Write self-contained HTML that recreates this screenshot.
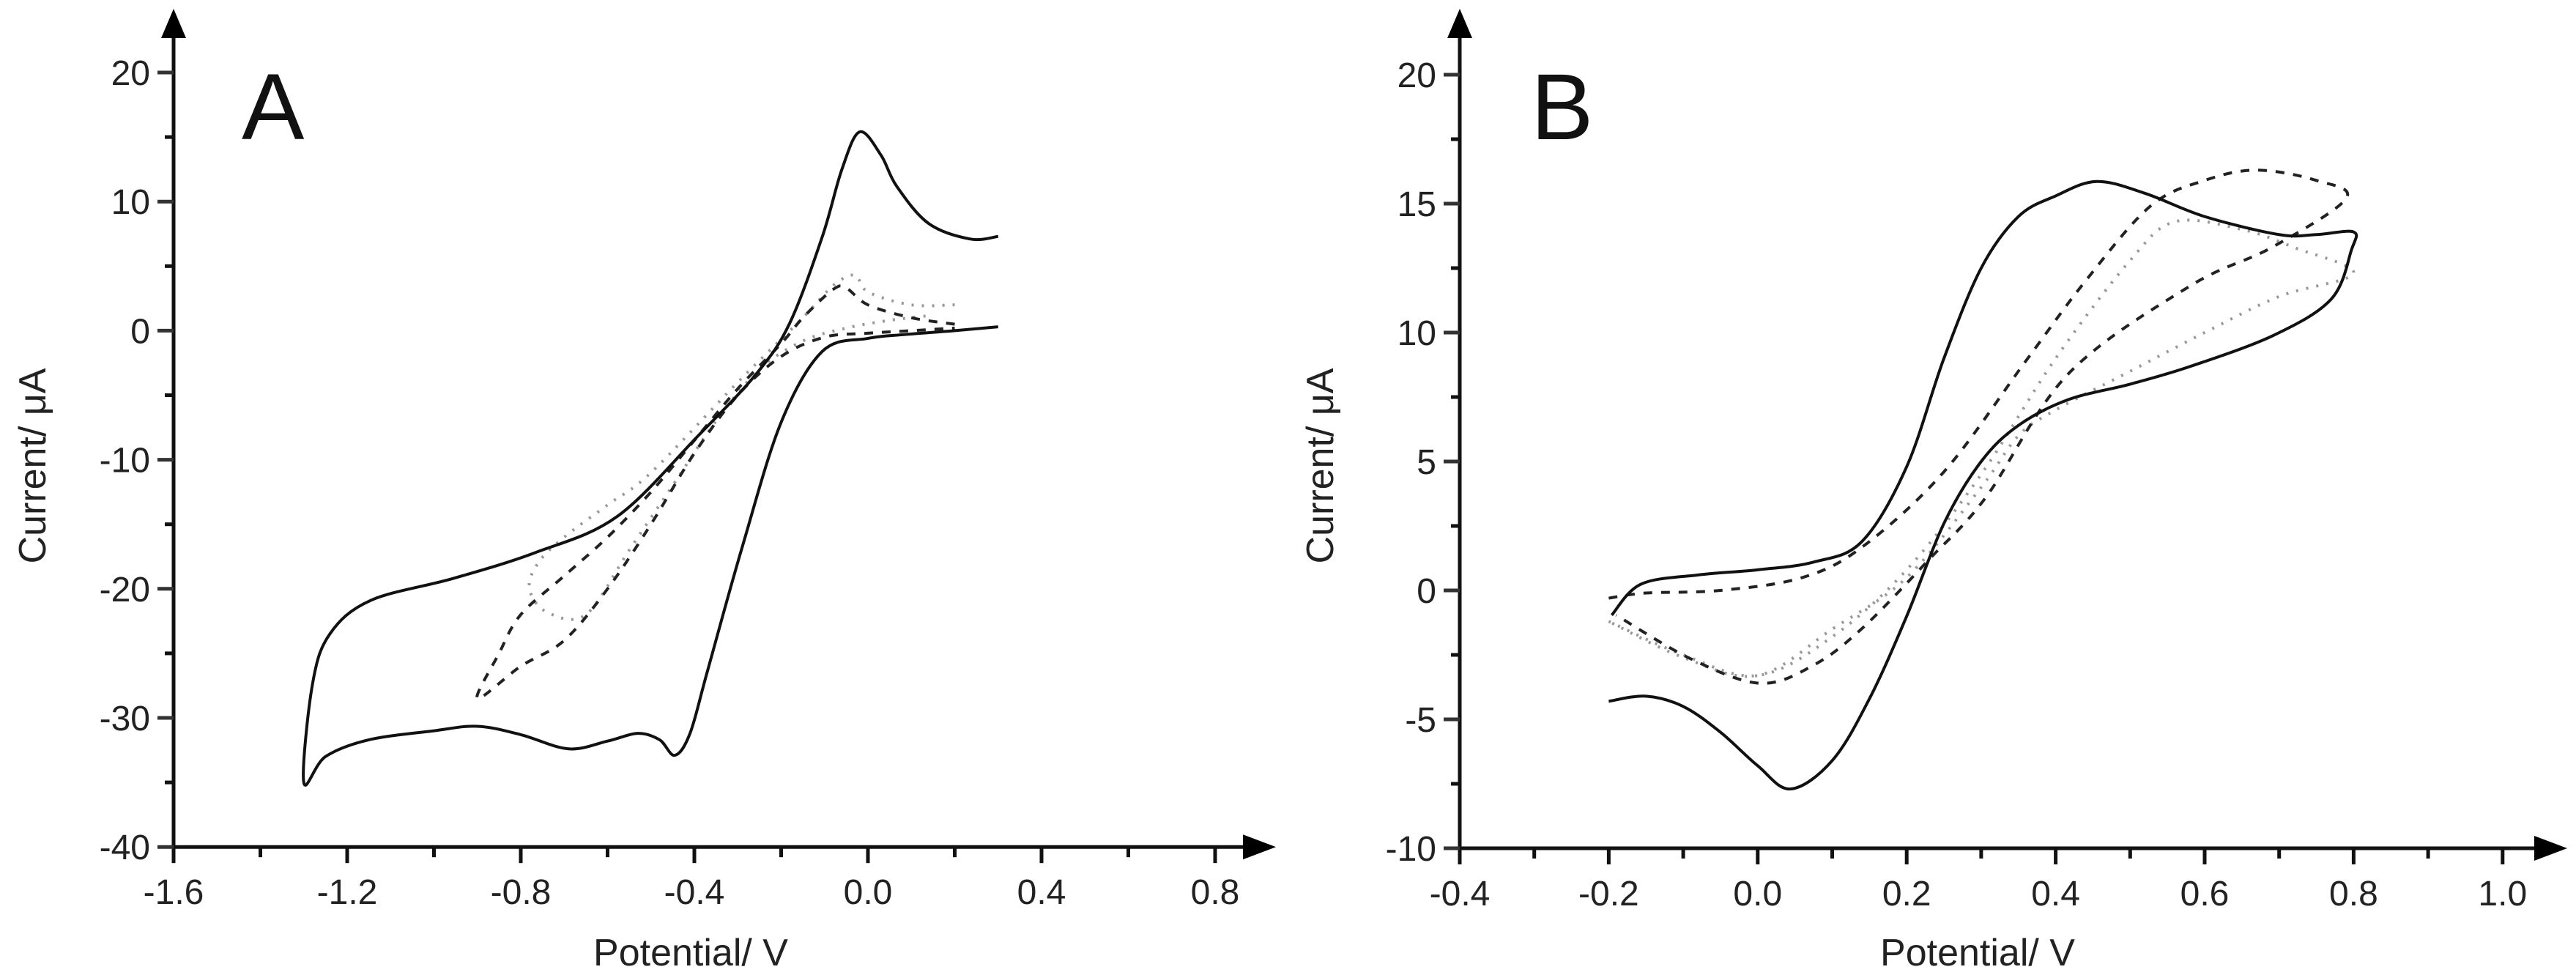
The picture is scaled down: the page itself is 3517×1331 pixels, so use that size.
<!DOCTYPE html>
<html><head><meta charset="utf-8"><style>
html,body{margin:0;padding:0;background:#fff;}
svg{display:block;font-family:"Liberation Sans",sans-serif;}
</style></head><body>
<svg id="chart" width="3517" height="1331" viewBox="0 0 3517 1331" xmlns="http://www.w3.org/2000/svg"></svg>
<script>
// Panel A data (V, µA)
const aSolidV = [0.3,0.236,0.14,0.066,0.03,-0.019,-0.06,-0.105,-0.18,-0.256,-0.39,-0.578,-0.767,-0.956,-1.146,-1.24,-1.28,-1.3,-1.25,-1.15,-1.0,-0.9,-0.8,-0.69,-0.6,-0.53,-0.48,-0.445,-0.41,-0.37,-0.29,-0.2,-0.105,0.0,0.085,0.2,0.3];
const aSolidI = [7.3,7.1,8.3,11.2,13.6,15.4,12.5,7.3,0.6,-3.3,-8.1,-14.4,-17.2,-19.2,-20.9,-23.5,-27.4,-35.0,-33.0,-31.7,-31.0,-30.65,-31.3,-32.4,-31.8,-31.2,-31.7,-32.9,-31.2,-26.4,-16.8,-7.1,-1.6,-0.6,-0.3,0.0,0.3];
const aDashV = [0.2,0.1,0.0,-0.05,-0.08,-0.15,-0.2,-0.3,-0.4,-0.5,-0.6,-0.7,-0.8,-0.85,-0.9,-0.8,-0.7,-0.6,-0.5,-0.4,-0.3,-0.2,-0.1,0.0,0.1,0.2];
const aDashI = [0.5,1.0,2.0,3.3,3.2,1.0,-1.0,-4.5,-8.5,-12.5,-16,-19,-22,-25,-28.5,-26,-24,-20,-15,-9.5,-5,-2,-0.5,-0.2,0.0,0.2];
const aDotV = [0.2,0.1,0.0,-0.03,-0.08,-0.15,-0.3,-0.5,-0.6,-0.7,-0.76,-0.78,-0.74,-0.65,-0.55,-0.45,-0.35,-0.25,-0.15,-0.05,0.05,0.15];
const aDotI = [2.0,2.0,3.0,4.3,3.5,1.0,-4,-11,-13.5,-16,-18,-20,-21.8,-22,-17,-12,-7,-3,-0.8,0.2,0.8,1.2];
// Panel B data
const bSolidV = [-0.2,-0.15,-0.1,-0.05,0.0,0.044,0.1,0.15,0.2,0.25,0.3,0.35,0.417,0.5,0.582,0.693,0.77,0.797,0.8,0.75,0.7,0.6,0.52,0.455,0.4,0.35,0.3,0.25,0.2,0.14,0.075,0.0,-0.08,-0.157,-0.196];
const bSolidI = [-4.3,-4.1,-4.5,-5.5,-6.8,-7.7,-6.6,-4.2,-1.0,2.6,5.0,6.4,7.4,8.0,8.7,9.9,11.3,13.2,13.9,13.8,13.8,14.5,15.4,15.86,15.3,14.5,12.5,9.0,4.8,1.9,1.1,0.8,0.6,0.24,-0.96];
const bDashV = [-0.2,-0.15,-0.05,0.06,0.141,0.25,0.36,0.44,0.527,0.6,0.67,0.75,0.79,0.69,0.58,0.417,0.306,0.23,0.141,0.075,0.003,-0.09,-0.19];
const bDashI = [-0.3,-0.1,0.0,0.5,1.7,4.6,8.9,12.0,14.9,15.9,16.3,15.9,15.2,13.3,11.8,8.4,3.6,1.2,-1.45,-2.9,-3.6,-2.65,-0.96];
const bDotV = [-0.2,-0.1,0.0,0.1,0.2,0.3,0.4,0.5,0.56,0.65,0.72,0.8,0.7,0.6,0.5,0.4,0.35,0.3,0.2,0.1,0.0,-0.1,-0.2];
const bDotI = [-1.2,-2.5,-3.3,-1.8,0.8,4.5,9,12.8,14.3,14.0,13.3,12.3,11.4,10,8.5,7,6,4,0.5,-1.5,-3.3,-2.6,-1.2];

const A_xTicks = [-1.6,-1.2,-0.8,-0.4,0.0,0.4,0.8];
const A_yTicks = [20,10,0,-10,-20,-30,-40];
const B_xTicks = [-0.4,-0.2,0.0,0.2,0.4,0.6,0.8,1.0];
const B_yTicks = [20,15,10,5,0,-5,-10];

const NS="http://www.w3.org/2000/svg";
const svg=document.getElementById('chart');
function mk(tag,attrs,parent){const e=document.createElementNS(NS,tag);for(const k in attrs)e.setAttribute(k,attrs[k]);(parent||svg).appendChild(e);return e;}

function panel(cfg){
  const g=mk('g',{});
  
  
  const X=v=>cfg.x0+(v-cfg.vmin)*cfg.pxV;
  const Y=i=>cfg.y0+(cfg.imax-i)*cfg.pxI;
  const axisY=Y(cfg.imin);
  const xa=mk('line',{x1:X(cfg.vmin),y1:axisY,x2:cfg.xEnd-30,y2:axisY,stroke:'#111','stroke-width':5},g);
  
  
  const xar=mk('polygon',{points:`${cfg.xEnd},${axisY} ${cfg.xEnd-45},${axisY-17} ${cfg.xEnd-45},${axisY+17}`,fill:'#000'},g);
  
  
  const ya=mk('line',{x1:X(cfg.vmin),y1:axisY,x2:X(cfg.vmin),y2:50,stroke:'#111','stroke-width':5},g);
  
  
  const yar=mk('polygon',{points:`${X(cfg.vmin)},12 ${X(cfg.vmin)-17},52 ${X(cfg.vmin)+17},52`,fill:'#000'},g);
  
  
  const dv=cfg.xTicks[1]-cfg.xTicks[0];
  cfg.xTicks.forEach((v,k)=>{
    const x=X(v);
    mk('line',{x1:x,y1:axisY,x2:x,y2:axisY+22,stroke:'#111','stroke-width':5},g);
    const t=mk('text',{x:x,y:axisY+78,'font-size':48,'text-anchor':'middle',fill:'#222'},g);
    t.textContent=v.toFixed(1);
    
    
    if(k<cfg.xTicks.length-1) mk('line',{x1:X(v+dv/2),y1:axisY,x2:X(v+dv/2),y2:axisY+14,stroke:'#111','stroke-width':5},g);
  });
  const di=cfg.yTicks[0]-cfg.yTicks[1];
  cfg.yTicks.forEach((i,k)=>{
    const y=Y(i);
    mk('line',{x1:X(cfg.vmin)-22,y1:y,x2:X(cfg.vmin),y2:y,stroke:'#333','stroke-width':5},g);
    const t=mk('text',{x:X(cfg.vmin)-32,y:y+17,'font-size':48,'text-anchor':'end',fill:'#222'},g);
    t.textContent=i;
    
    
    if(k<cfg.yTicks.length-1) mk('line',{x1:X(cfg.vmin)-12,y1:Y(i-di/2),x2:X(cfg.vmin),y2:Y(i-di/2),stroke:'#111','stroke-width':5},g);
  });
  const xt=mk('text',{x:cfg.xTitleX,y:1318,'font-size':52,'text-anchor':'middle',fill:'#222'},g);
  xt.textContent='Potential/ V';
  
  
  const yt=mk('text',{x:0,y:0,'font-size':52,'text-anchor':'middle',fill:'#222',transform:`translate(${cfg.yTitleX},636) rotate(-90)`},g);
  yt.textContent='Current/ μA';
  
  
  const pl=mk('text',{x:cfg.labelX,y:190,'font-size':128,fill:'#111'},g);
  pl.textContent=cfg.label;
  
  
  cfg.series.forEach(s=>{
    const pts=s.v.map((v,k)=>[X(v),Y(s.i[k])]);
    let d=`M${pts[0][0]},${pts[0][1]}`;
    for(let k=0;k<pts.length-1;k++){
      const p0=pts[Math.max(0,k-1)],p1=pts[k],p2=pts[k+1],p3=pts[Math.min(pts.length-1,k+2)];
      const c1=[p1[0]+(p2[0]-p0[0])/6,p1[1]+(p2[1]-p0[1])/6];
      const c2=[p2[0]-(p3[0]-p1[0])/6,p2[1]-(p3[1]-p1[1])/6];
      d+=` C${c1[0]},${c1[1]} ${c2[0]},${c2[1]} ${p2[0]},${p2[1]}`;
    }
    const p=mk('path',{d:d,fill:'none',stroke:s.color,'stroke-width':s.w,'stroke-dasharray':s.dash||'none','stroke-linejoin':'round'},g);
    
    
  });
}

panel({name:'panel-a',x0:237,vmin:-1.6,pxV:592.5,y0:99,imax:20,imin:-40,pxI:17.62,xEnd:1742,
  xTicks:A_xTicks,yTicks:A_yTicks,xTitleX:943,yTitleX:62,labelX:330,label:'A',
  series:[
    {name:'series-a-dotted',v:aDotV,i:aDotI,color:'#999',w:4,dash:'3 11'},
    {name:'series-a-dashed',v:aDashV,i:aDashI,color:'#222',w:4,dash:'12 12'},
    {name:'series-a-solid',v:aSolidV,i:aSolidI,color:'#111',w:4}
  ]});
panel({name:'panel-b',x0:1993,vmin:-0.4,pxV:1017,y0:102,imax:20,imin:-10,pxI:35.2,xEnd:3505,
  xTicks:B_xTicks,yTicks:B_yTicks,xTitleX:2700,yTitleX:1820,labelX:2090,label:'B',
  series:[
    {name:'series-b-dotted',v:bDotV,i:bDotI,color:'#999',w:4,dash:'3 11'},
    {name:'series-b-dashed',v:bDashV,i:bDashI,color:'#222',w:4,dash:'12 12'},
    {name:'series-b-solid',v:bSolidV,i:bSolidI,color:'#111',w:4}
  ]});
</script>
</body></html>
